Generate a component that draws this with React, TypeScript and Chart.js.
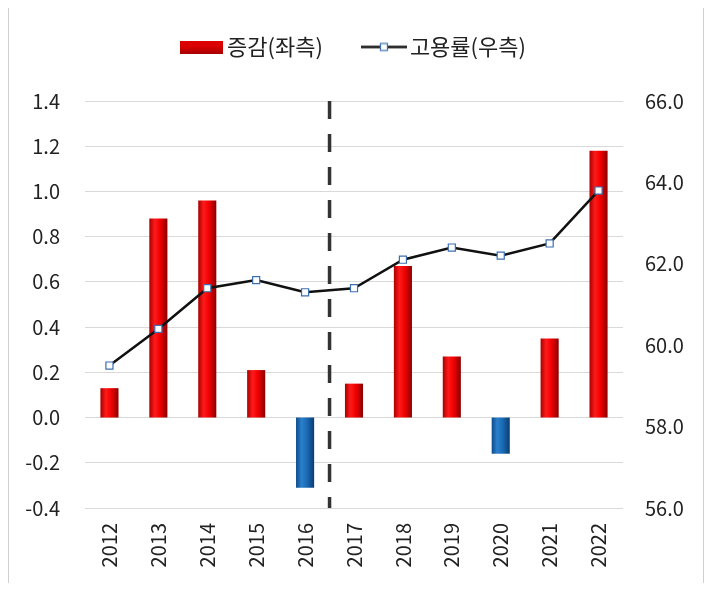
import React, { useEffect, useRef } from "react";
import { Chart, registerables } from "chart.js";

Chart.register(...registerables);

const YEARS = ["2012", "2013", "2014", "2015", "2016", "2017", "2018", "2019", "2020", "2021", "2022"];
const CHANGE = [0.13, 0.88, 0.96, 0.21, -0.31, 0.15, 0.67, 0.27, -0.16, 0.35, 1.18];
const RATE = [59.5, 60.4, 61.4, 61.6, 61.3, 61.4, 62.1, 62.4, 62.2, 62.5, 63.8];
const LEFT_AXIS = { min: -0.4, max: 1.4, step: 0.2 };
const RIGHT_AXIS = { min: 56, max: 66, step: 2 };
const LEGEND_LABELS = ["증감(좌측)", "고용률(우측)"];
const DIVIDER_AFTER = "2016";

const FONT = "'Noto Sans CJK KR', 'Noto Sans', sans-serif";
const BAR_PCT = 0.37;

function fmt1(v: any) {
  const n = Number(v);
  return (Math.abs(n) < 1e-9 ? 0 : n).toFixed(1);
}

function barGradient(ctx: any) {
  const chart = ctx.chart;
  const v = ctx.raw as number;
  const neg = v < 0;
  const x = chart.scales && chart.scales.x;
  if (!x) return neg ? "#1c6cb5" : "#ee0000";
  const c = x.getPixelForValue(ctx.dataIndex);
  const step = x.getPixelForValue(1) - x.getPixelForValue(0);
  const half = (step * BAR_PCT) / 2;
  if (!isFinite(c) || !isFinite(half) || half <= 0) return neg ? "#1c6cb5" : "#ee0000";
  const g = chart.ctx.createLinearGradient(c - half, 0, c + half, 0);
  if (neg) {
    g.addColorStop(0, "#0b4a88");
    g.addColorStop(0.3, "#2b80cc");
    g.addColorStop(0.6, "#1b6ab4");
    g.addColorStop(1, "#0a3c72");
  } else {
    g.addColorStop(0, "#a80000");
    g.addColorStop(0.3, "#ff1a1a");
    g.addColorStop(0.6, "#f00000");
    g.addColorStop(1, "#8a0000");
  }
  return g;
}

function makeBoxImage() {
  const c = document.createElement("canvas");
  c.width = 43;
  c.height = 13;
  const g = c.getContext("2d")!;
  const gr = g.createLinearGradient(0, 0, 0, 13);
  gr.addColorStop(0, "#e00000");
  gr.addColorStop(0.5, "#d80000");
  gr.addColorStop(1, "#a80000");
  g.fillStyle = gr;
  g.fillRect(0, 0, 43, 13);
  return c;
}

function makeLineImage() {
  const c = document.createElement("canvas");
  c.width = 46;
  c.height = 11;
  const g = c.getContext("2d")!;
  g.strokeStyle = "#111";
  g.lineWidth = 2.5;
  g.beginPath();
  g.moveTo(0, 5.5);
  g.lineTo(46, 5.5);
  g.stroke();
  g.fillStyle = "#fff";
  g.fillRect(19.5, 2, 7, 7);
  g.strokeStyle = "#3b6fb0";
  g.lineWidth = 1.2;
  g.strokeRect(19.5, 2, 7, 7);
  return c;
}

const dividerPlugin = {
  id: "divider",
  beforeDatasetsDraw(chart: any) {
    const x = chart.scales.x;
    const i = YEARS.indexOf(DIVIDER_AFTER);
    const px = (x.getPixelForValue(i) + x.getPixelForValue(i + 1)) / 2;
    const { top, bottom } = chart.chartArea;
    const ctx = chart.ctx;
    ctx.save();
    ctx.strokeStyle = "#333";
    ctx.lineWidth = 3.5;
    ctx.setLineDash([18, 15]);
    ctx.beginPath();
    ctx.moveTo(px, top);
    ctx.lineTo(px, bottom);
    ctx.stroke();
    ctx.restore();
  },
};

export default function App() {
  const ref = useRef<HTMLCanvasElement | null>(null);

  useEffect(() => {
    if (!ref.current) return;
    const boxImg = makeBoxImage();
    const lineImg = makeLineImage();
    const chart = new Chart(ref.current, {
      type: "bar",
      data: {
        labels: YEARS,
        datasets: [
          {
            type: "bar",
            label: LEGEND_LABELS[0],
            data: CHANGE,
            yAxisID: "y",
            xAxisID: "x",
            backgroundColor: barGradient as any,
            borderWidth: 0,
            categoryPercentage: 1,
            barPercentage: BAR_PCT,
            order: 1,
          },
          {
            type: "line",
            label: LEGEND_LABELS[1],
            data: RATE,
            yAxisID: "y1",
            xAxisID: "x",
            borderColor: "#111",
            borderWidth: 2.5,
            tension: 0,
            pointStyle: "rect",
            pointRadius: 5,
            pointBackgroundColor: "#fff",
            pointBorderColor: "#3b6fb0",
            pointBorderWidth: 1.2,
            order: 0,
          } as any,
        ],
      },
      options: {
        animation: false,
        responsive: true,
        maintainAspectRatio: false,
        layout: { padding: { top: -18, left: 0, right: 0, bottom: 0 } },
        plugins: {
          tooltip: { enabled: false },
          legend: {
            display: true,
            position: "top",
            labels: {
              usePointStyle: true,
              pointStyleWidth: 30,
              padding: 46,
              color: "#222",
              font: { family: FONT, size: 22 },
              generateLabels: () => [
                {
                  text: LEGEND_LABELS[0],
                  pointStyle: boxImg as any,
                  fillStyle: "#e00000",
                  strokeStyle: "transparent",
                  lineWidth: 0,
                  hidden: false,
                  datasetIndex: 0,
                  fontColor: "#222",
                },
                {
                  text: LEGEND_LABELS[1],
                  pointStyle: lineImg as any,
                  fillStyle: "#fff",
                  strokeStyle: "transparent",
                  lineWidth: 0,
                  hidden: false,
                  datasetIndex: 1,
                  fontColor: "#222",
                },
              ],
            },
          },
        },
        scales: {
          x: {
            type: "category",
            position: "bottom",
            offset: true,
            grid: { display: false, drawTicks: false },
            border: { display: false },
            ticks: {
              autoSkip: false,
              minRotation: 90,
              maxRotation: 90,
              padding: 15,
              color: "#222",
              font: { family: FONT, size: 20 },
            },
            afterFit: (s: any) => {
              s.height = 75;
            },
          },
          xTop: {
            type: "category",
            position: "top",
            display: true,
            grid: { display: false, drawTicks: false },
            border: { display: false },
            ticks: { display: false },
            afterFit: (s: any) => {
              s.height = 33;
            },
          },
          y: {
            type: "linear",
            position: "left",
            min: LEFT_AXIS.min,
            max: LEFT_AXIS.max,
            grid: { color: "#d9d9d9", lineWidth: 1, drawTicks: false },
            border: { display: false },
            ticks: {
              stepSize: LEFT_AXIS.step,
              padding: 25,
              color: "#222",
              font: { family: FONT, size: 20 },
              callback: (v: any) => fmt1(v),
            },
            afterFit: (s: any) => {
              s.width = 76;
            },
          },
          y1: {
            type: "linear",
            position: "right",
            min: RIGHT_AXIS.min,
            max: RIGHT_AXIS.max,
            grid: { display: false, drawTicks: false },
            border: { display: false },
            ticks: {
              stepSize: RIGHT_AXIS.step,
              padding: 22,
              color: "#222",
              font: { family: FONT, size: 20 },
              callback: (v: any) => fmt1(v),
            },
            afterFit: (s: any) => {
              s.width = 80;
            },
          },
        },
      },
      plugins: [dividerPlugin],
    });
    return () => chart.destroy();
  }, []);

  return (
    <div
      style={{
        width: 696,
        height: 575,
        boxSizing: "border-box",
        borderLeft: "1px solid #d0d0d0",
        borderRight: "1px solid #d0d0d0",
        background: "#fff",
      }}
    >
      <div style={{ position: "relative", width: 694, height: 575 }}>
        <canvas ref={ref} />
      </div>
    </div>
  );
}
